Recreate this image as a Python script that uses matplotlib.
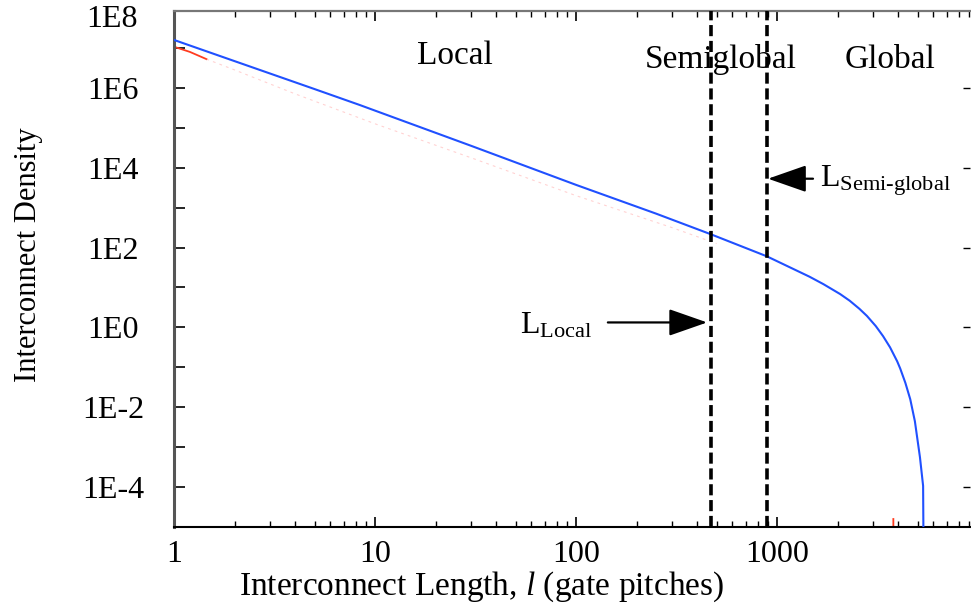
import numpy as np
import matplotlib
matplotlib.use("Agg")
import matplotlib.pyplot as plt
import matplotlib.transforms as mtransforms
from matplotlib.ticker import FixedLocator, NullFormatter, LogLocator

plt.rcParams['font.family'] = ['Liberation Serif', 'DejaVu Serif']
plt.rcParams['mathtext.fontset'] = 'custom'
plt.rcParams['mathtext.rm'] = 'Liberation Serif'
plt.rcParams['mathtext.it'] = 'Liberation Serif:italic'
plt.rcParams['lines.scale_dashes'] = False

# ---- data ----
blue_x = [1, 2, 5, 8.4, 10, 30, 100, 250, 470, 890, 1450, 1700, 2060, 2300,
          2570, 2800, 3100, 3370, 3650, 3960, 4100, 4350, 4600, 4850, 5140,
          5330, 5370]
blue_logy = [7.2, 6.67, 5.97, 5.57, 5.43, 4.55, 3.57, 2.85, 2.33, 1.78, 1.27,
             1.084, 0.835, 0.667, 0.465, 0.287, 0.032, -0.22, -0.5, -0.85,
             -1.03, -1.39, -1.8, -2.35, -3.25, -3.97, -6.5]

red_x = [1, 1.2, 1.45, 2, 4, 10, 30, 100, 300, 500]
red_logy = [7.03, 6.9, 6.72, 6.45, 5.85, 5.1, 4.25, 3.3, 2.5, 2.1]
red_tail_x = [3790, 3800]
red_tail_logy = [-4.8, -7.0]

l_local = 470
l_semiglobal = 890

x_ticks = [1, 10, 100, 1000]
x_ticklabels = ['1', '10', '100', '1000']
y_ticks = [1e-4, 1e-2, 1e0, 1e2, 1e4, 1e6]
y_ticklabels = ['1E-4', '1E-2', '1E0', '1E2', '1E4', '1E6']
y_top_label = '1E8'
y_minor_ticks = [1e-5, 1e-3, 1e-1, 1e1, 1e3, 1e5, 1e7]

W, H = 971, 603
TOP, BOT = 11, 527
fig = plt.figure(figsize=(W / 100, H / 100), dpi=100)
ax = fig.add_axes([174 / W, (H - BOT) / H, (970 - 174) / W, (BOT - TOP) / H])

ax.set_xscale('log')
ax.set_yscale('log')
ax.set_xlim(1, 9120)
ax.set_ylim(1e-5, 10 ** 7.925)

by = 10.0 ** np.array(blue_logy)
ry = 10.0 ** np.array(red_logy)
rty = 10.0 ** np.array(red_tail_logy)

ax.plot(red_x[:3], ry[:3], color='#ff3b1f', lw=1.3, zorder=2)
ax.plot(red_x[2:], ry[2:], color='#ff9c9c', lw=0.8, alpha=0.45,
        ls=(0, (2, 3)), zorder=2)
ax.plot(red_tail_x, rty, color='#ff3b1f', lw=1.3, zorder=2)
ax.plot(blue_x, by, color='#2050ff', lw=1.5, zorder=3)

for xv in (l_local, l_semiglobal):
    ax.axvline(xv, color='black', lw=2.6, dashes=[8, 3.4], zorder=4)

# region labels
ax.text(25, 10 ** 6.8, 'Local', fontsize=24, ha='center', va='center')
ax.text(526, 10 ** 6.7, 'Semiglobal', fontsize=24, ha='center', va='center')
ax.text(3650, 10 ** 6.7, 'Global', fontsize=24, ha='center', va='center')

# annotations
arrow_kw = dict(arrowstyle='-|>,head_length=1.2,head_width=0.42',
                color='black', lw=1.6, mutation_scale=20,
                shrinkA=0, shrinkB=0)
ax.annotate('', xy=(449, 1.33), xytext=(144, 1.33), arrowprops=arrow_kw, zorder=5)
ax.text(52.6, 10 ** 0.05, r'$\mathrm{L}_{\mathrm{Local}}$', fontsize=23,
        ha='left', va='center')
ax.annotate('', xy=(902, 5300), xytext=(1510, 5300), arrowprops=arrow_kw, zorder=5)
ax.text(1636, 10 ** 3.67, r'$\mathrm{L}_{\mathrm{Semi}\text{-}\mathrm{global}}$',
        fontsize=23, ha='left', va='center')

# ticks
ax.xaxis.set_major_locator(FixedLocator(x_ticks))
ax.set_xticklabels(x_ticklabels)
ax.xaxis.set_minor_locator(LogLocator(base=10, subs=np.arange(2, 10)))
ax.xaxis.set_minor_formatter(NullFormatter())
ax.set_yticks(y_ticks)
ax.set_yticklabels(y_ticklabels)
ax.yaxis.set_minor_locator(FixedLocator(y_minor_ticks + [1e8]))
ax.yaxis.set_minor_formatter(NullFormatter())

ax.tick_params(axis='x', which='major', direction='in', length=7, width=1.2,
               labelsize=23, pad=9, top=True)
ax.tick_params(axis='x', which='minor', direction='in', length=4, width=1.0,
               top=True)
ax.tick_params(axis='y', which='major', direction='in', length=8, width=1.2,
               labelsize=23, pad=44, right=False)
ax.tick_params(axis='y', which='minor', direction='in', length=8, width=1.2,
               right=False)
for lab in ax.get_yticklabels():
    lab.set_horizontalalignment('center')

# top y label (1E8 sits just at the top edge of the frame)
trans = mtransforms.blended_transform_factory(ax.transAxes, ax.transData)
ax.text((112 - 174) / 796, 10 ** 7.72, y_top_label, fontsize=23,
        ha='center', va='center', transform=trans, clip_on=False)

ax2 = ax.twinx()
ax2.set_yscale('log')
ax2.set_ylim(1e-5, 10 ** 7.925)
ax2.yaxis.set_major_locator(FixedLocator(y_ticks))
ax2.yaxis.set_minor_locator(FixedLocator([]))
ax2.tick_params(axis='y', direction='in', length=5, width=1.0, labelright=False)
for s in ax2.spines.values():
    s.set_visible(False)

ax.spines['right'].set_visible(False)
ax.spines['left'].set_color('#555555')
ax.spines['left'].set_linewidth(2.2)
ax.spines['bottom'].set_color('black')
ax.spines['bottom'].set_linewidth(1.5)
ax.spines['top'].set_color('#777777')
ax.spines['top'].set_linewidth(1.6)

ax.set_xlabel(r'Interconnect Length, $\mathit{l}$ (gate pitches)', fontsize=24)
ax.xaxis.label.set_verticalalignment('baseline')
ax.xaxis.set_label_coords(0.387, -(595 - BOT) / (BOT - TOP))
ax.set_ylabel('Interconnect Density', fontsize=22)
ax.yaxis.set_label_coords(-0.165, (BOT - 255) / (BOT - TOP))

fig.savefig('out.png', dpi=100)
